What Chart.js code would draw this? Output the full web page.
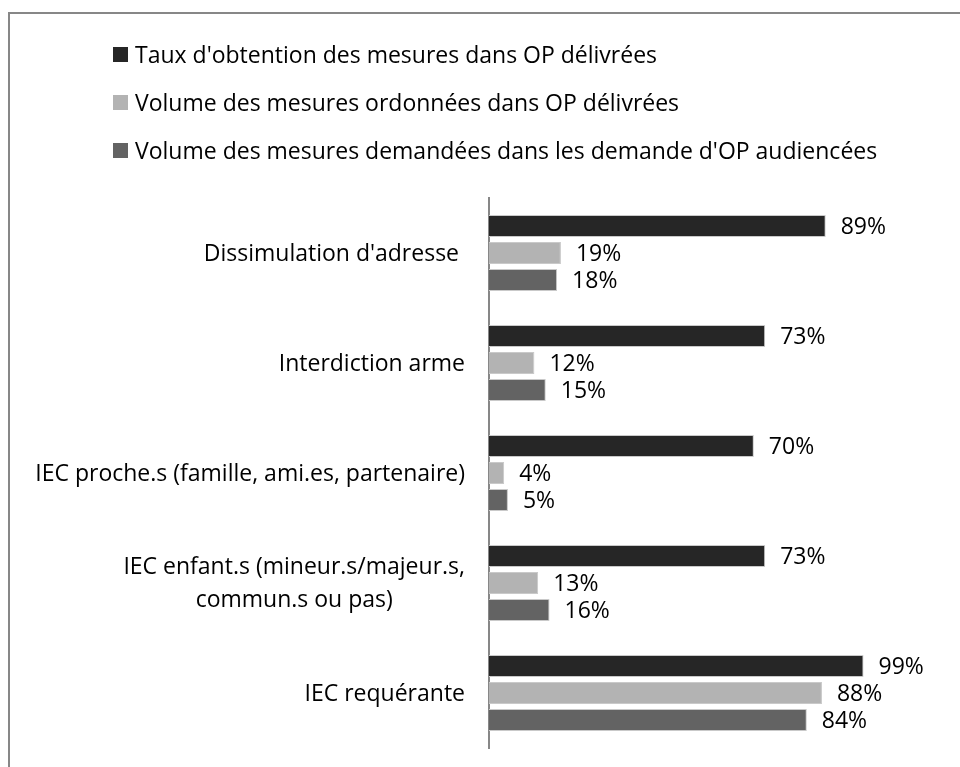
<!DOCTYPE html>
<html lang="fr">
<head>
<meta charset="utf-8">
<title>Mesures OP</title>
<script src="https://cdn.jsdelivr.net/npm/chart.js@4.4.1/dist/chart.umd.min.js"></script>
<style>
    html, body { margin: 0; padding: 0; background: #fff; }
    #wrap { position: relative; width: 960px; height: 767px; overflow: hidden; font-family: "Open Sans", Lato, sans-serif; }
    #frame { position: absolute; left: 8px; top: 12px; width: 1000px; height: 1000px; border-left: 2px solid #878787; border-top: 2px solid #878787; }
    #chart { position: absolute; left: 0; top: 0; }
    #legend { position: absolute; left: 113px; top: 0; margin: 0; padding: 0; list-style: none; }
    #legend li { position: absolute; left: 0; white-space: nowrap; display: flex; align-items: center; font-size: 23px; color: #000; height: 30px; }
    #legend li span.box { display: inline-block; width: 15px; height: 15px; margin-right: 7px; }
</style>
</head>
<body>
<div id="wrap">
    <div id="frame"></div>
    <canvas id="chart" width="960" height="767"></canvas>
    <ul id="legend"></ul>
</div>
<script>
(function(){
    // categories (top to bottom) - nested arrays are wrapped labels
    const categories = [
        "Dissimulation d'adresse ",
        'Interdiction arme',
        'IEC proche.s (famille, ami.es, partenaire)',
        ['IEC enfant.s (mineur.s/majeur.s,', 'commun.s ou pas)'],
        'IEC requérante'
    ];

    const seriesNames = [
        "Taux d'obtention des mesures dans OP délivrées",
        'Volume des mesures ordonnées dans OP délivrées',
        "Volume des mesures demandées dans les demande d'OP audiencées"
    ];

    // values in %
    const tauxObtention = [89, 73, 70, 73, 99];
    const volumeOrdonnees = [19, 12, 4, 13, 88];
    const volumeDemandees = [18, 15, 5, 16, 84];

    const seriesColors = ['#262626', '#b3b3b3', '#636363'];
    const FONT = '"Open Sans", Lato, sans-serif';
    const FONT_SIZE = 23;

    // value labels to the right of each bar
    const valueLabels = {
        id: 'valueLabels',
        afterDatasetsDraw(chart) {
            const ctx = chart.ctx;
            ctx.save();
            ctx.font = FONT_SIZE + 'px ' + FONT;
            ctx.fillStyle = '#000';
            ctx.textAlign = 'left';
            ctx.textBaseline = 'middle';
            chart.data.datasets.forEach((ds, i) => {
                const meta = chart.getDatasetMeta(i);
                meta.data.forEach((bar, j) => {
                    ctx.fillText(ds.data[j] + '%', bar.x + 15, bar.y + 1);
                });
            });
            ctx.restore();
        }
    };

    // category labels: block right-aligned against the axis, lines centered inside the block
    const categoryLabels = {
        id: 'categoryLabels',
        afterDraw(chart) {
            const ctx = chart.ctx;
            const yScale = chart.scales.y;
            const rightEdge = chart.chartArea.left - 24;
            const lineH = 33;
            ctx.save();
            ctx.font = FONT_SIZE + 'px ' + FONT;
            ctx.fillStyle = '#000';
            ctx.textAlign = 'center';
            ctx.textBaseline = 'middle';
            chart.data.labels.forEach((lbl, i) => {
                const lines = Array.isArray(lbl) ? lbl : [lbl];
                const blockW = Math.max(...lines.map(l => ctx.measureText(l).width));
                const cx = rightEdge - blockW / 2;
                const cy = yScale.getPixelForValue(i);
                const y0 = cy - (lines.length - 1) * lineH / 2;
                lines.forEach((l, k) => ctx.fillText(l, cx, y0 + k * lineH + 1));
            });
            ctx.restore();
        }
    };

    const ctx = document.getElementById('chart');
    const chart = new Chart(ctx, {
        type: 'bar',
        data: {
            labels: categories,
            datasets: [
                { label: seriesNames[0], data: tauxObtention, backgroundColor: seriesColors[0] },
                { label: seriesNames[1], data: volumeOrdonnees, backgroundColor: seriesColors[1] },
                { label: seriesNames[2], data: volumeDemandees, backgroundColor: seriesColors[2] }
            ]
        },
        options: {
            indexAxis: 'y',
            responsive: false,
            animation: false,
            devicePixelRatio: 1,
            datasets: {
                bar: {
                    categoryPercentage: 0.736,
                    barPercentage: 0.815,
                    borderColor: '#c9c9c9',
                    borderWidth: 1
                }
            },
            layout: { padding: { top: 198, bottom: 19, left: 0, right: 17 } },
            plugins: {
                legend: { display: false },
                tooltip: { enabled: false }
            },
            scales: {
                x: { display: false, min: 0, max: 120 },
                y: {
                    grid: { display: false },
                    border: { display: true, color: '#878787', width: 2 },
                    ticks: { display: false },
                    afterFit(scale) { scale.width = 489; }
                }
            }
        },
        plugins: [valueLabels, categoryLabels]
    });

    // legend built from the dataset labels/colours
    const legendEl = document.getElementById('legend');
    const rowCenters = [54, 102, 150];
    chart.data.datasets.forEach((ds, i) => {
        const li = document.createElement('li');
        li.style.top = (rowCenters[i] - 15) + 'px';
        const box = document.createElement('span');
        box.className = 'box';
        box.style.background = ds.backgroundColor;
        li.appendChild(box);
        li.appendChild(document.createTextNode(ds.label));
        legendEl.appendChild(li);
    });
})();
</script>
</body>
</html>
